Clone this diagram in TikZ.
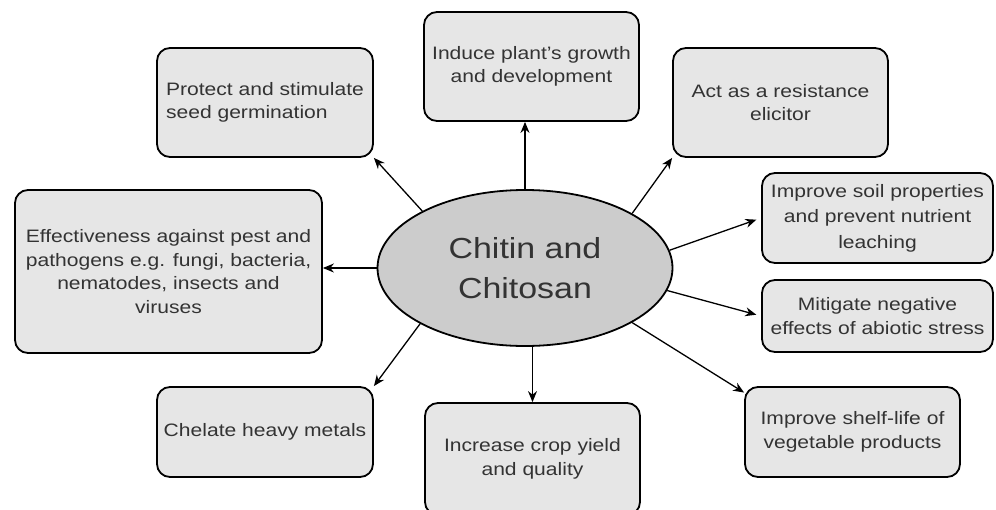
\documentclass[tikz,border=0pt]{standalone}
\usepackage{fontspec}
\setmainfont{Liberation Sans}[FakeStretch=1.17]
\usepackage{xcolor}
\usetikzlibrary{shapes.geometric,arrows.meta}
\definecolor{boxgray}{HTML}{E6E6E6}
\definecolor{hubgray}{HTML}{CCCCCC}
\definecolor{txtgray}{HTML}{333333}

\begin{document}
\begin{tikzpicture}[x=1pt,y=-1pt,>={Stealth[length=11pt,width=9pt]},
  benefit/.style={draw,line width=1.8pt,rounded corners=13pt,fill=boxgray,text=txtgray,align=center,inner sep=2pt,font=\fontsize{18}{23.5}\selectfont},
  hub/.style={ellipse,draw,line width=1.8pt,fill=hubgray,text=txtgray,align=center,inner sep=0pt,minimum width=295pt,minimum height=156pt,font=\fontsize{29}{40}\selectfont},
  link/.style={->,line width=1.3pt}]
\useasboundingbox (0,0) rectangle (996,509);
\clip (0,0) rectangle (996,509);
\node[hub] (ch) at (525,268) {Chitin and\\Chitosan};
\node[benefit,align=left,minimum width=216pt,minimum height=109pt] (b1) at (265,102.5) {Protect and stimulate\\seed germination};
\node[benefit,minimum width=215pt,minimum height=109pt] (b2) at (531.5,66.5) {Induce plant’s growth\\and development};
\node[benefit,minimum width=215pt,minimum height=109pt] (b3) at (780.5,102.5) {Act as a resistance\\elicitor};
\node[benefit,minimum width=231pt,minimum height=90pt,font=\fontsize{18}{25.5}\selectfont] (b4) at (877.5,218) {Improve soil properties\\and prevent nutrient\\leaching};
\node[benefit,minimum width=231pt,minimum height=72pt] (b5) at (877.5,316) {Mitigate negative\\effects of abiotic stress};
\node[benefit,minimum width=215pt,minimum height=90pt] (b6) at (852.5,432) {Improve shelf-life of\\vegetable products};
\node[benefit,minimum width=215pt,minimum height=112pt] (b7) at (532.5,459) {Increase crop yield\\and quality};
\node[benefit,minimum width=216pt,minimum height=90pt] (b8) at (265,432) {Chelate heavy metals};
\node[benefit,minimum width=307pt,minimum height=163pt] (b9) at (168.5,271.5) {Effectiveness against pest and\\pathogens e.g. fungi, bacteria,\\nematodes, insects and\\viruses};
\draw[link] (ch.151) -- (b1.south east);
\draw[link] (ch.north) -- (ch.north |- b2.south);
\draw[link] (ch.27) -- (b3.south west);
\draw[link,shorten >=5pt] (ch.7) -- (b4.west);
\draw[link,shorten >=5pt] (ch.-9) -- (b5.west);
\draw[link] (ch.-27) -- (b6.160);
\draw[link] (b7.north |- ch.south) -- (b7.north);
\draw[link] (ch.208) -- (b8.north east);
\draw[link] (ch.west) -- (ch.west -| b9.east);
\end{tikzpicture}
\end{document}
